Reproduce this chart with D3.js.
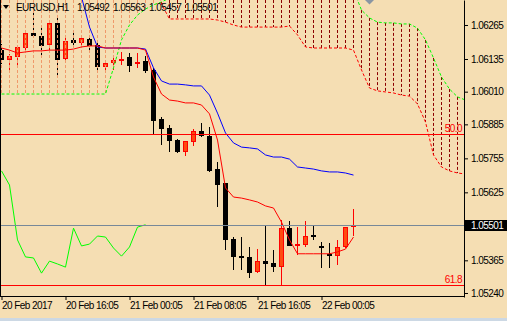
<!DOCTYPE html>
<html>
<head>
<meta charset="utf-8">
<title>EURUSD,H1</title>
<style>
  body { margin: 0; background: #F5DEB3; }
  svg { display: block; }
  text { font-family: "Liberation Sans", Arial, sans-serif; font-size: 10px; letter-spacing: -0.55px; }
</style>
</head>
<body>
<script src="https://cdnjs.cloudflare.com/ajax/libs/d3/7.8.5/d3.min.js"></script>
<script>
// H1 bars, oldest first
var open  = [1.06169,1.06131,1.06143,1.06177,1.06234,1.06223,1.06188,1.06273,1.06135,1.06208,
             1.06196,1.06211,1.06188,1.06104,1.06120,1.06127,1.06143,1.06116,1.06127,1.06093,
             1.05905,1.05871,1.05825,1.05779,1.05818,1.05860,1.05840,1.05714,1.05661,1.05446,
             1.05381,1.05378,1.05320,1.05362,1.05355,1.05339,1.05488,1.05420,1.05423,1.05462,
             1.05420,1.05389,1.05381,1.05416,1.05492];
var high  = [1.06192,1.06154,1.06188,1.06246,1.06322,1.06253,1.06284,1.06292,1.06223,1.06238,
             1.06223,1.06219,1.06196,1.06123,1.06143,1.06162,1.06158,1.06158,1.06146,1.06101,
             1.05913,1.05883,1.05829,1.05823,1.05867,1.05890,1.05875,1.05741,1.05661,1.05454,
             1.05454,1.05416,1.05408,1.05496,1.05404,1.05519,1.05515,1.05492,1.05515,1.05496,
             1.05435,1.05431,1.05443,1.05492,1.05563];
var low   = [1.06116,1.06085,1.06101,1.06162,1.06215,1.06150,1.06169,1.06066,1.06123,1.06185,
             1.06185,1.06169,1.06085,1.06081,1.06093,1.06112,1.06085,1.06101,1.06081,1.05850,
             1.05806,1.05779,1.05775,1.05764,1.05802,1.05837,1.05703,1.05569,1.05404,1.05328,
             1.05328,1.05297,1.05316,1.05271,1.05320,1.05272,1.05420,1.05385,1.05416,1.05443,
             1.05336,1.05336,1.05347,1.05412,1.05457];
var close = [1.06131,1.06146,1.06181,1.06234,1.06223,1.06185,1.06273,1.06131,1.06204,1.06196,
             1.06215,1.06185,1.06104,1.06120,1.06131,1.06135,1.06108,1.06123,1.06089,1.05898,
             1.05867,1.05821,1.05779,1.05821,1.05860,1.05840,1.05707,1.05653,1.05443,1.05378,
             1.05374,1.05316,1.05362,1.05351,1.05339,1.05488,1.05420,1.05427,1.05458,1.05454,
             1.05412,1.05381,1.05416,1.05492,1.05501];

// Ichimoku
var tenkan = [1.06177,1.06169,1.06158,1.06162,1.06166,1.06166,1.06169,1.06169,1.06169,1.06173,
              1.06181,1.06185,1.06185,1.06177,1.06177,1.06177,1.06177,1.06177,1.06169,1.06066,
              1.06001,1.05978,1.05974,1.05967,1.05967,1.05959,1.05925,1.05825,1.05642,1.05607,
              1.05603,1.05596,1.05588,1.05573,1.05565,1.05511,1.05443,1.05390,1.05390,1.05390,
              1.05390,1.05390,1.05397,1.05408,1.05454];
var kijun  = [1.06514,1.06514,1.06514,1.06514,1.06514,1.06514,1.06514,1.06514,1.06514,1.06514,
              1.06372,1.06257,1.06181,1.06177,1.06177,1.06177,1.06177,1.06177,1.06173,1.06101,
              1.06051,1.06039,1.06039,1.06036,1.06032,1.06032,1.05997,1.05928,1.05852,1.05814,
              1.05798,1.05795,1.05791,1.05768,1.05760,1.05760,1.05752,1.05722,1.05718,1.05714,
              1.05707,1.05703,1.05703,1.05699,1.05691];
var spanA  = [1.06001,1.06001,1.06001,1.06001,1.06001,1.06001,1.06001,1.06001,1.06001,1.06001,
              1.06001,1.06001,1.06001,1.06001,1.06101,1.06208,1.06265,1.06303,1.06326,1.06342,
              1.06353,1.06368,1.06391,1.06437,1.06437,1.06437,1.06437,1.06437,1.06437,1.06437,
              1.06437,1.06437,1.06437,1.06437,1.06437,1.06437,1.06437,1.06437,1.06437,1.06437,
              1.06437,1.06437,1.06437,1.06418,1.06399,1.06322,1.06292,1.06276,1.06273,1.06273,
              1.06269,1.06269,1.06253,1.06208,1.06139,1.06066,1.06020,1.05990,1.05978];
var spanB  = [1.06475,1.06475,1.06475,1.06475,1.06475,1.06475,1.06475,1.06475,1.06475,1.06475,
              1.06475,1.06475,1.06475,1.06475,1.06475,1.06475,1.06475,1.06475,1.06475,1.06475,
              1.06345,1.06288,1.06288,1.06288,1.06288,1.06288,1.06288,1.06284,1.06276,1.06265,
              1.06257,1.06257,1.06257,1.06257,1.06257,1.06257,1.06261,1.06227,1.06181,1.06177,
              1.06177,1.06177,1.06177,1.06177,1.06169,1.06093,1.06024,1.06013,1.06009,1.06005,
              1.05997,1.05993,1.05963,1.05894,1.05768,1.05722,1.05707,1.05699,1.05695];
var chikouShift = 26;

var priceTicks = [1.06265,1.06135,1.06010,1.05885,1.05755,1.05625,1.05365,1.05240];
var timeTicks  = [0,8,16,24,32,40];
var timeLabels = ["20 Feb 2017","20 Feb 16:05","21 Feb 00:05","21 Feb 08:05","21 Feb 16:05","22 Feb 00:05"];
var fibLabels  = ["50.0","61.8"];
var fibPrices  = [1.05850,1.05272];
var symbol = "EURUSD,H1";

var W = 507, H = 321, plotW = 464, plotH = 296;

var x = d3.scaleLinear().domain([0,58]).range([1.5,465.5]);
var y = d3.scaleLinear().domain([1.052247,1.063606]).range([297,0]);
var fmt = d3.format(".5f");
var last = close.length - 1;
var bid = close[last];

var svg = d3.select("body").append("svg").attr("width",W).attr("height",H);

svg.append("rect").attr("width",W).attr("height",H).attr("fill","#F5DEB3");
svg.append("rect").attr("x",0).attr("y",318).attr("width",W).attr("height",3).attr("fill","#CCD8E4");

svg.append("clipPath").attr("id","plot")
  .append("rect").attr("width",plotW).attr("height",plotH);

var g = svg.append("g").attr("clip-path","url(#plot)");

// candles
var bars = d3.range(close.length);
g.selectAll(".wick").data(bars).enter().append("line")
  .attr("x1",function(i){ return x(i); }).attr("x2",function(i){ return x(i); })
  .attr("y1",function(i){ return Math.round(y(high[i])); })
  .attr("y2",function(i){ return Math.round(y(low[i])); })
  .attr("stroke",function(i){ return close[i] > open[i] ? "#FF0000" : "#000"; });

bars.forEach(function(i){
  var top = Math.round(y(Math.max(open[i],close[i])));
  var bot = Math.round(y(Math.min(open[i],close[i])));
  var h = bot - top;
  var up = close[i] > open[i];
  if (h <= 1) {
    g.append("line").attr("x1",x(i)-2.5).attr("x2",x(i)+2.5)
      .attr("y1",top+0.5).attr("y2",top+0.5)
      .attr("stroke",up ? "#FF0000" : "#000");
  } else if (up) {
    g.append("rect").attr("x",x(i)-2).attr("y",top+0.5).attr("width",4).attr("height",h-1)
      .attr("fill","#FF4A10").attr("stroke","#FF0000");
  } else {
    g.append("rect").attr("x",x(i)-2.5).attr("y",top).attr("width",5).attr("height",h)
      .attr("fill","#000");
  }
});

// cloud hatching
var cloud = d3.range(spanA.length - 1);
g.selectAll(".hatch").data(cloud).enter().append("line")
  .attr("x1",function(i){ return x(i); }).attr("x2",function(i){ return x(i); })
  .attr("y1",function(i){ return Math.max(0, y(Math.max(spanA[i],spanB[i]))); })
  .attr("y2",function(i){ return y(Math.min(spanA[i],spanB[i])); })
  .attr("stroke",function(i){ return spanA[i] < spanB[i] ? "#F0996A" : "#8B0000"; })
  .attr("stroke-dasharray","3,2");

var line = d3.line().x(function(d,i){ return x(i); }).y(function(d){ return y(d); });

g.append("path").attr("d",line(spanA)).attr("fill","none").attr("stroke","#00FF00").attr("stroke-dasharray","3,2");
g.append("path").attr("d",line(spanB)).attr("fill","none").attr("stroke","#FF0000").attr("stroke-dasharray","3,2");
g.append("path").attr("d",line(kijun)).attr("fill","none").attr("stroke","#0000FF");
g.append("path").attr("d",line(tenkan)).attr("fill","none").attr("stroke","#FF0000");
g.append("path").attr("d",line(close.slice(chikouShift))).attr("fill","none").attr("stroke","#00FF00");

// bid line
var by = Math.round(y(bid)) + 0.5;
g.append("line").attr("x1",0).attr("x2",plotW).attr("y1",by).attr("y2",by).attr("stroke","#778899");

// fibo levels
fibPrices.forEach(function(p,k){
  var fy = Math.round(y(p)) + 0.5;
  g.append("line").attr("x1",0).attr("x2",plotW).attr("y1",fy).attr("y2",fy).attr("stroke","#FF0000");
  svg.append("text").attr("x",462).attr("y",fy-3).attr("text-anchor","end")
    .attr("fill","#FF0000").text(fibLabels[k]);
});

// frame
svg.append("line").attr("x1",0.5).attr("x2",0.5).attr("y1",0).attr("y2",297).attr("stroke","#000");
svg.append("line").attr("x1",0).attr("x2",plotW+1).attr("y1",296.5).attr("y2",296.5).attr("stroke","#000");

// price axis
var ya = svg.append("g").attr("transform","translate(" + plotW + ",0)")
  .call(d3.axisRight(y).tickValues(priceTicks).tickSize(4).tickSizeOuter(0).tickPadding(3).tickFormat(fmt));
ya.select(".domain").attr("stroke","#000");
ya.selectAll("text").attr("font-family",null).attr("font-size",null).attr("fill","#000");

svg.append("rect").attr("x",plotW+1).attr("y",by-5.5).attr("width",W-plotW-1).attr("height",11).attr("fill","#000");
svg.append("text").attr("x",plotW+7).attr("y",by+3.5).attr("fill","#fff").text(fmt(bid));

// time axis
var xa = svg.append("g").attr("transform","translate(0,296)")
  .call(d3.axisBottom(x).tickValues(timeTicks).tickSize(4).tickPadding(3)
    .tickFormat(function(d,k){ return timeLabels[k]; }));
xa.select(".domain").remove();
xa.selectAll("text").attr("font-family",null).attr("font-size",null).attr("fill","#000")
  .attr("text-anchor","start").attr("dy",null).attr("y",13).attr("x",0);

// title
svg.append("path").attr("d","M3,5L9,5L6,9Z").attr("fill","#000");
svg.append("text").attr("x",16).attr("y",11).attr("fill","#000").text(symbol);
[open[last],high[last],low[last],close[last]].forEach(function(v,k){
  svg.append("text").attr("x",77 + 36*k).attr("y",11).attr("fill","#000").text(fmt(v));
});

// chart shift marker
svg.append("path").attr("d","M365,0L374,0L369.5,4.5Z").attr("fill","#8A96A3");
</script>
</body>
</html>
